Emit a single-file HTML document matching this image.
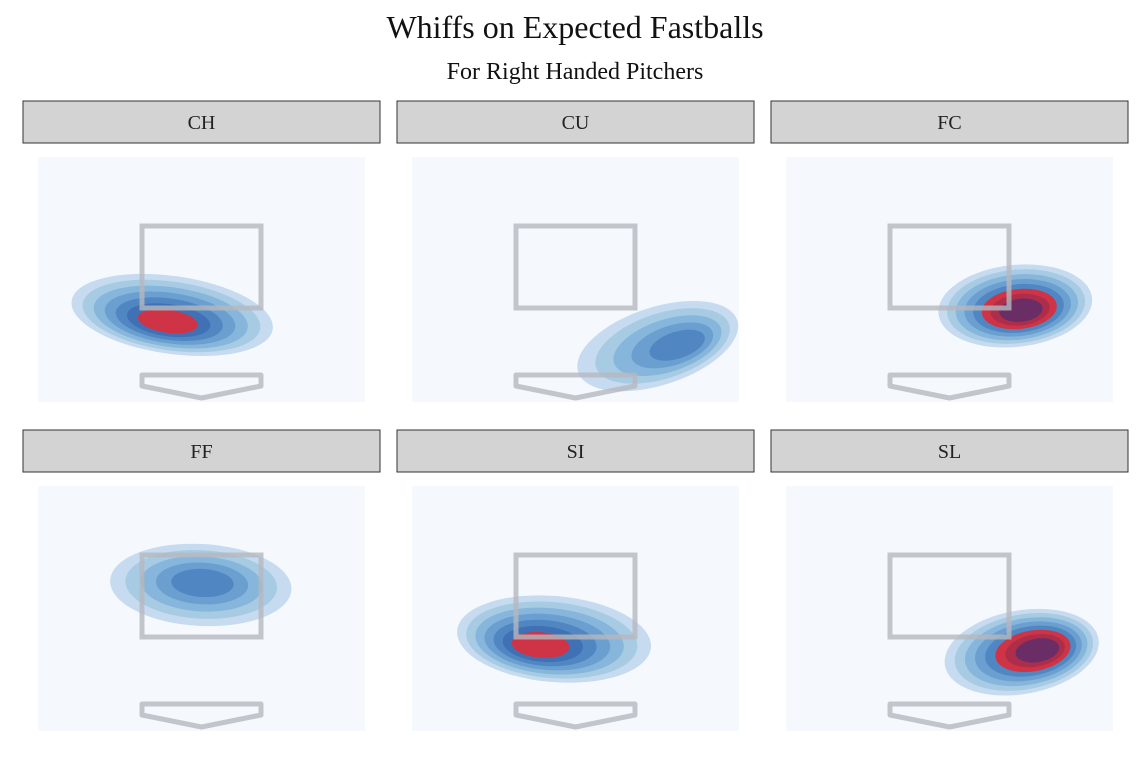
<!DOCTYPE html>
<html><head><meta charset="utf-8"><style>
html,body{margin:0;padding:0;background:#fff;}
svg{display:block;font-family:"Liberation Serif",serif;}
</style></head><body>
<svg id="chart" width="1144" height="766" viewBox="0 0 1144 766">
<text x="575" y="38" text-anchor="middle" font-size="32" fill="#111">Whiffs on Expected Fastballs</text>
<text x="575" y="79" text-anchor="middle" font-size="24" fill="#111">For Right Handed Pitchers</text>
<g id="panels"></g>
</svg>
<script>
// pitch types (facets)
const pitchTypes = ["CH","CU","FC","FF","SI","SL"];
// outer density center (plate x ft, height z ft)
const outerX = [-0.41, 1.15, 0.92, -0.01, -0.30, 1.01];
const outerZ = [1.33, 0.57, 1.55, 2.77, 1.45, 1.13];
// density peak location
const peakX = [-0.48, 1.49, 1.01, 0.02, -0.52, 1.26];
const peakZ = [1.15, 0.60, 1.43, 2.83, 1.28, 1.18];
// outer contour half-extent (ft) and tilt (deg)
const spreadX = [1.42, 1.17, 1.08, 1.27, 1.36, 1.09];
const spreadZ = [0.95, 0.95, 1.00, 1.00, 1.05, 1.02];
const tilt = [8, -18, -6, 3, 5, -10];
// contour levels: blue bands, high-density (red/purple) bands
const blueLevels = [6, 5, 5, 5, 6, 5];
const hotLevels = [1, 0, 3, 0, 1, 3];

const blues = ["#c6dbef","#a8cbe4","#86b6db","#6a9fd0","#5087c3","#4171b5"];
const hots = ["#cf3346","#ad2e4a","#6a2d66"];

const NS = "http://www.w3.org/2000/svg";
const g = document.getElementById("panels");
const colX = [38, 412, 786], rowY = [157, 486];
const plotW = 327, plotH = 245;
function sx(ft, ox){ return ox + 163.5 + ft*71.5; }
function sy(ft, oy){ return oy + 110 - (ft-2.5)*41; }
function mk(tag, attrs, parent){ const e=document.createElementNS(NS,tag); for(const k in attrs) e.setAttribute(k,attrs[k]); parent.appendChild(e); return e; }

pitchTypes.forEach((pt,i)=>{
  const ox = colX[i%3], oy = rowY[Math.floor(i/3)];
  const pg = mk("g",{},g);
  
  
  const strip = mk("rect",{x:ox-15,y:oy-56,width:357,height:42,fill:"#d3d3d3",stroke:"#333","stroke-width":1},pg);
  
  
  const st = mk("text",{x:ox+163.5,y:oy-28,"text-anchor":"middle","font-size":20,fill:"#222"},pg);
  st.textContent = pt;
  
  
  const bg = mk("rect",{x:ox,y:oy,width:plotW,height:plotH,fill:"#f5f9fe"},pg);
  
  
  const n = blueLevels[i] + hotLevels[i];
  const cx0 = sx(outerX[i],ox), cy0 = sy(outerZ[i],oy);
  const cx1 = sx(peakX[i],ox), cy1 = sy(peakZ[i],oy);
  const rx0 = spreadX[i]*71.5, ry0 = spreadZ[i]*41;
  for(let k=0;k<n;k++){
    const t = k/(n);
    const s = 1 - t*0.82;
    const cx = cx0 + (cx1-cx0)*t, cy = cy0 + (cy1-cy0)*t;
    const col = k < blueLevels[i] ? blues[Math.min(k,5)] : hots[Math.min(k-blueLevels[i],2)];
    const e = mk("ellipse",{cx:cx,cy:cy,rx:rx0*s,ry:ry0*s,fill:col,transform:`rotate(${tilt[i]} ${cx} ${cy})`},pg);
    
    
  }
  const zone = mk("rect",{x:ox+104,y:oy+69,width:119,height:82,fill:"none",stroke:"#b5b8be","stroke-width":5,"stroke-opacity":0.8},pg);
  
  
  const plate = mk("path",{d:`M${ox+104} ${oy+218} L${ox+223} ${oy+218} L${ox+223} ${oy+229} L${ox+163.5} ${oy+241} L${ox+104} ${oy+229} Z`,fill:"none",stroke:"#b5b8be","stroke-width":5,"stroke-opacity":0.8,"stroke-linejoin":"round"},pg);
  
  
});
</script>
</body></html>
